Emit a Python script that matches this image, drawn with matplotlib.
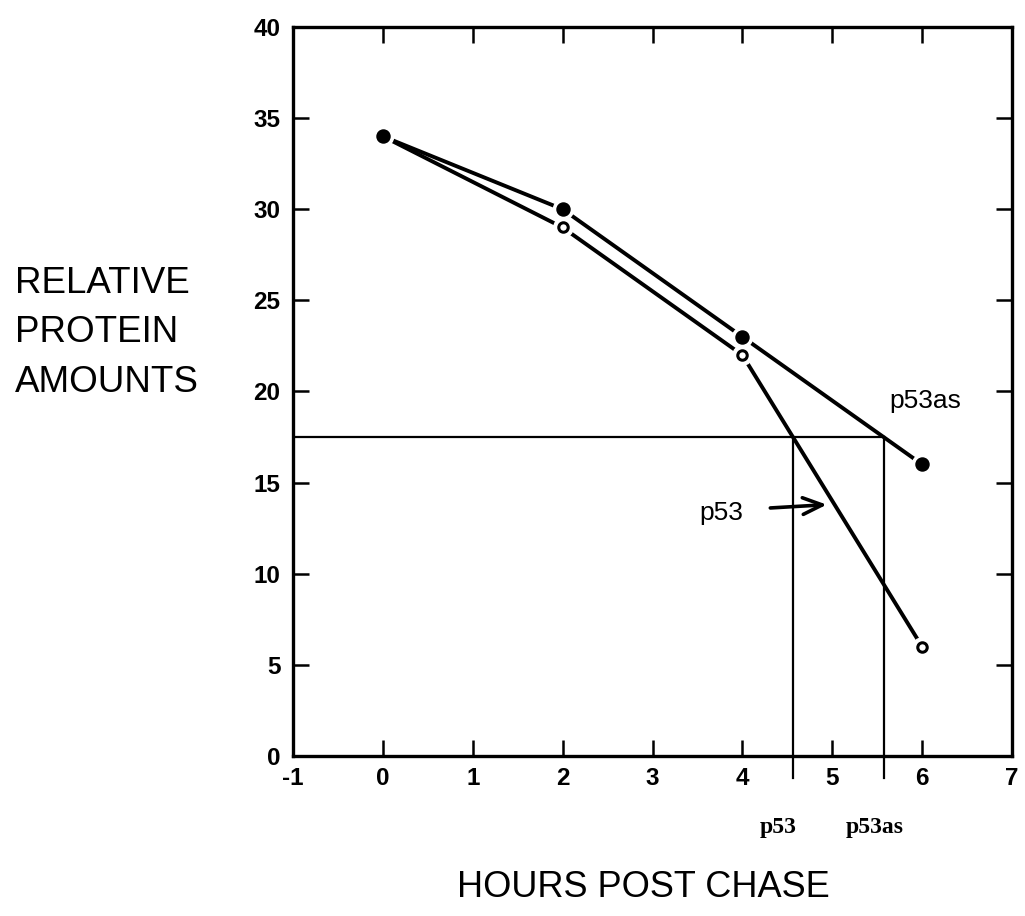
import numpy as np
import matplotlib.pyplot as plt

# data
hours = [0, 2, 4, 6]
p53as = [34, 30, 23, 16]   # filled circles
p53 = [34, 29, 22, 6]      # open circles
half_level = 17.5

x_ticks = list(range(-1, 8))
y_ticks = list(range(0, 41, 5))

# where the half level crosses each curve (curves are decreasing)
t_p53 = np.interp(half_level, p53[::-1], hours[::-1])
t_p53as = np.interp(half_level, p53as[::-1], hours[::-1])

plt.rcParams['font.family'] = ['Liberation Sans', 'DejaVu Sans']
plt.rcParams['axes.unicode_minus'] = False

fig = plt.figure(figsize=(10.25, 9.16), dpi=100)
ax = fig.add_axes([0.2859, 0.1747, 0.7014, 0.7958])

lw = 2.8
ax.plot(hours, p53as, color='black', lw=lw, zorder=2)
ax.plot(hours, p53, color='black', lw=lw, zorder=2)

# white halo around the markers, then the markers themselves
ax.plot(hours, p53, ls='none', marker='o', ms=14, mfc='white', mec='white', zorder=3)
ax.plot(hours, p53as, ls='none', marker='o', ms=14.5, mfc='white', mec='white', zorder=3)
ax.plot(hours, p53, ls='none', marker='o', ms=6.8, mfc='white', mec='black', mew=2.2, zorder=4)
ax.plot(hours, p53as, ls='none', marker='o', ms=9.4, mfc='black', mec='black', zorder=5)

# half-life construction lines
ax.plot([-1, t_p53as], [half_level, half_level], color='black', lw=1.6, zorder=1)
ax.plot([t_p53, t_p53], [half_level, -1.2], color='black', lw=1.6, zorder=1, clip_on=False)
ax.plot([t_p53as, t_p53as], [half_level, -1.2], color='black', lw=1.6, zorder=1, clip_on=False)

ax.text(6.03, 19.1, 'p53as', fontsize=19, ha='center', va='baseline')
ax.text(3.76, 12.97, 'p53', fontsize=19, ha='center', va='baseline')
ax.annotate('', xy=(4.97, 13.8), xytext=(4.28, 13.6),
            arrowprops=dict(arrowstyle='->,head_length=0.7,head_width=0.3',
                            lw=2.6, color='black', mutation_scale=20))

ax.text(t_p53 - 0.16, -3.9, 'p53', fontsize=17, fontweight='bold', family='Liberation Serif',
        ha='center', va='center')
ax.text(t_p53as - 0.1, -3.9, 'p53as', fontsize=17, fontweight='bold', family='Liberation Serif',
        ha='center', va='center')

ax.set_xlim(-1, 7)
ax.set_ylim(0, 40)
ax.set_xticks(x_ticks)
ax.set_yticks(y_ticks)
ax.tick_params(direction='in', length=11.5, width=1.8, top=True, right=True,
               labelsize=17.5)
ax.tick_params(axis='y', pad=9)
ax.tick_params(axis='x', pad=8)
for lab in ax.get_xticklabels() + ax.get_yticklabels():
    lab.set_fontweight('bold')
for s in ax.spines.values():
    s.set_linewidth(2.4)

fig.text(0.0146, 0.6365, 'RELATIVE\nPROTEIN\nAMOUNTS', fontsize=26.5, ha='left', va='center',
         multialignment='left', linespacing=1.55)
fig.text(0.6278, 0.0207, 'HOURS POST CHASE', fontsize=26, ha='center', va='baseline')

fig.savefig('out.png', dpi=100, facecolor='white')
